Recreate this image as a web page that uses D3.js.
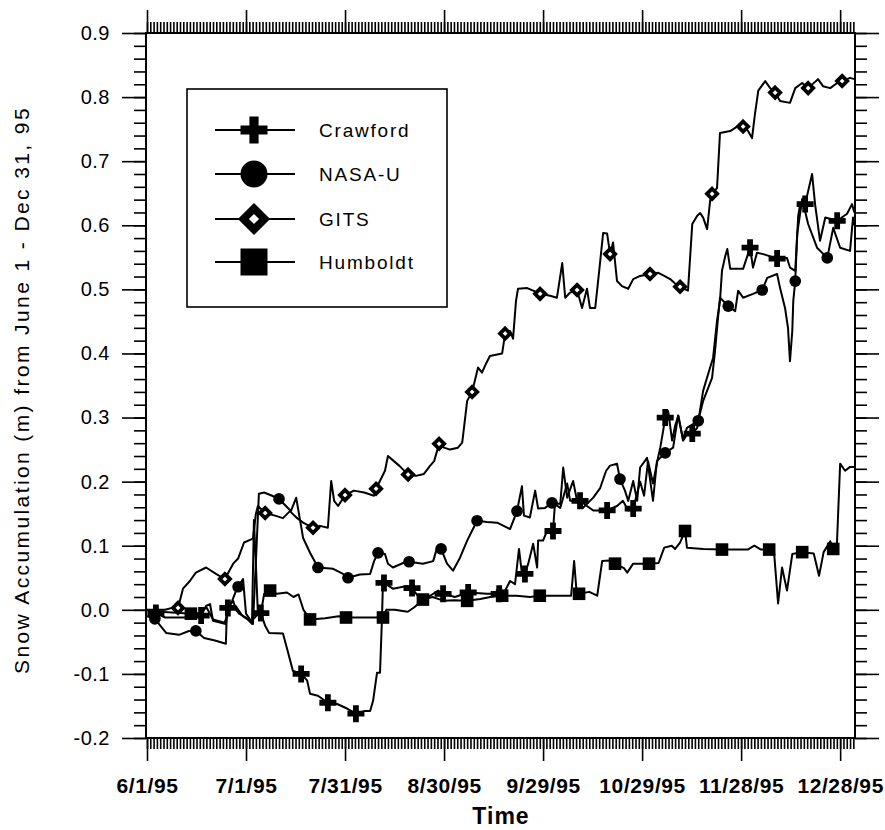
<!DOCTYPE html>
<html>
<head>
<meta charset="utf-8">
<script src="https://cdn.jsdelivr.net/npm/d3@7"></script>
<style>
  body { margin: 0; background: #fff; }
  svg { display: block; }
  .tick text { font-family: "Liberation Sans", Arial, Helvetica, sans-serif; fill: #000; }
</style>
</head>
<body>
<svg width="885" height="830"></svg>
<script>
// x tick labels, every 30 days from June 1 1995
const xTickDays = [0, 30, 60, 90, 120, 150, 180, 210];
const xTickLabels = ['6/1/95', '7/1/95', '7/31/95', '8/30/95', '9/29/95', '10/29/95', '11/28/95', '12/28/95'];
const yTicks = [-0.2, -0.1, 0.0, 0.1, 0.2, 0.3, 0.4, 0.5, 0.6, 0.7, 0.8, 0.9];
const yTickLabels = ['-0.2', '-0.1', '0.0', '0.1', '0.2', '0.3', '0.4', '0.5', '0.6', '0.7', '0.8', '0.9'];

const seriesNames = ['Crawford', 'NASA-U', 'GITS', 'Humboldt'];

// [days since 6/1/95, accumulation m]
const crawford = [[0,0],[2.7,-0.005],[5.5,-0.012],[11.5,-0.012],[16.4,-0.009],[17.9,0.006],[19.1,0.009],[20,-0.017],[23.9,-0.022],[24.5,0.003],[26.1,0.014],[27,0.0],[27.9,-0.006],[30,-0.012],[31.8,-0.022],[32.4,0.14],[33,0.07],[33.6,-0.006],[34.5,-0.005],[35.8,-0.025],[37,-0.036],[41.2,-0.037],[42.4,-0.06],[44.2,-0.095],[46.7,-0.1],[48.5,-0.11],[49.4,-0.131],[51.8,-0.134],[54.8,-0.145],[57.6,-0.147],[60.6,-0.154],[63.3,-0.162],[65.8,-0.158],[67.6,-0.158],[68.5,-0.142],[69.7,-0.098],[70.6,-0.098],[71.2,-0.012],[71.5,0.045],[71.8,0.042],[74.5,0.033],[78.8,0.037],[80.3,0.034],[82.7,0.017],[85.8,0.022],[88.2,0.03],[89.7,0.025],[93.3,0.02],[97.3,0.027],[103,0.025],[106.7,0.025],[108.5,0.03],[110,0.045],[111.5,0.04],[112.7,0.095],[113.6,0.056],[114.5,0.056],[115.5,0.072],[117,0.103],[118.2,0.066],[118.5,0.108],[120,0.108],[121.2,0.123],[123,0.123],[123.6,0.165],[125.2,0.159],[127.3,0.197],[128.2,0.17],[131.2,0.17],[133.3,0.162],[135.2,0.155],[139.4,0.155],[142.4,0.162],[144.2,0.17],[145.8,0.155],[147.3,0.158],[149.4,0.2],[150.6,0.178],[151.8,0.232],[153.3,0.197],[154.8,0.237],[155.5,0.253],[156.4,0.28],[157,0.3],[157.9,0.31],[159.1,0.264],[160,0.287],[161,0.303],[162.4,0.264],[163.9,0.276],[165.2,0.275],[166.7,0.284],[168.5,0.342],[170.6,0.378],[171.5,0.393],[172.7,0.451],[173.6,0.482],[174.2,0.529],[175.2,0.552],[175.8,0.563],[176.7,0.532],[180.6,0.532],[182.7,0.565],[183.6,0.534],[184.8,0.557],[186.7,0.555],[190.9,0.548],[193.9,0.549],[194.8,0.534],[196.4,0.529],[197.3,0.615],[197.9,0.633],[199.4,0.633],[201.5,0.68],[202.4,0.633],[203.9,0.576],[205.5,0.612],[209.1,0.607],[212.1,0.618],[213.6,0.633],[214.3,0.62]];
const nasaU = [[0,-0.01],[2.4,-0.014],[5.8,-0.036],[9.7,-0.039],[12.7,-0.033],[14.8,-0.033],[17.3,-0.044],[20.6,-0.048],[23.9,-0.053],[24.2,-0.002],[25.8,0.014],[27,0.03],[27.6,0.036],[29.1,0.048],[30,-0.006],[32.1,-0.022],[33,0.076],[33.9,0.181],[35.5,0.183],[37.9,0.178],[40,0.173],[42.1,0.162],[43.6,0.154],[45.2,0.175],[47.3,0.112],[49.4,0.089],[51.8,0.066],[56.4,0.064],[59.4,0.056],[60.9,0.05],[64.5,0.055],[67.6,0.056],[68.8,0.076],[70,0.089],[72.1,0.087],[73,0.072],[74.5,0.066],[77.6,0.073],[79.4,0.075],[83.6,0.072],[86.7,0.076],[87.9,0.097],[89.1,0.095],[90.9,0.072],[92.7,0.061],[94.8,0.081],[97,0.108],[100,0.139],[103,0.137],[106.1,0.136],[110,0.126],[112.1,0.154],[113.6,0.193],[114.2,0.147],[116,0.144],[117.6,0.186],[118.5,0.158],[120.6,0.159],[122.7,0.167],[125.2,0.165],[126.1,0.222],[127.3,0.175],[129.1,0.201],[130.3,0.17],[132.1,0.159],[135.2,0.175],[137.3,0.19],[139.1,0.217],[140.3,0.225],[142.4,0.228],[143.3,0.204],[144.8,0.186],[145.8,0.17],[147.3,0.201],[148.5,0.17],[149.4,0.222],[151.5,0.237],[152.4,0.204],[153.3,0.17],[154.5,0.232],[157,0.245],[159.4,0.253],[160.9,0.303],[162.4,0.267],[163.6,0.284],[167,0.295],[168.5,0.326],[171.2,0.362],[172.1,0.404],[173,0.456],[173.6,0.487],[176.1,0.474],[178.2,0.466],[179.1,0.498],[180.6,0.487],[183.6,0.493],[186.4,0.499],[187.9,0.518],[190.9,0.524],[191.8,0.502],[193.3,0.471],[194.2,0.44],[194.8,0.388],[195.5,0.435],[195.8,0.482],[196.4,0.513],[197,0.587],[198.5,0.641],[200.3,0.602],[203,0.565],[206.1,0.549],[207.9,0.596],[210,0.565],[213,0.56],[213.9,0.612],[214.3,0.6]];
const gits = [[0,0],[5.5,0.0],[7.6,0.003],[9.4,0.003],[10.9,0.033],[13,0.045],[14.8,0.058],[17.9,0.066],[20.9,0.056],[23.6,0.048],[26.1,0.072],[27.6,0.08],[29.4,0.105],[32.1,0.111],[33,0.15],[33.6,0.162],[35.8,0.151],[38.8,0.147],[41.2,0.143],[43.3,0.154],[45.5,0.143],[47.3,0.136],[50.3,0.128],[52.4,0.131],[54.8,0.128],[55.8,0.201],[56.7,0.17],[57.9,0.162],[60,0.179],[62.7,0.186],[65.8,0.183],[68.8,0.178],[69.4,0.189],[72.1,0.217],[73,0.24],[74.8,0.232],[76.4,0.225],[79.1,0.211],[81.5,0.209],[83.9,0.212],[85.8,0.225],[87,0.232],[88.5,0.259],[90,0.253],[91.8,0.25],[94.2,0.253],[95.5,0.261],[97,0.326],[98.5,0.34],[100.3,0.378],[101.5,0.37],[102.7,0.384],[103.9,0.396],[107.6,0.4],[108.5,0.431],[110,0.435],[110.9,0.423],[111.8,0.482],[112.4,0.501],[115.2,0.502],[117,0.498],[119.1,0.493],[122.1,0.49],[124.2,0.487],[125.8,0.541],[126.7,0.487],[128.2,0.495],[130.3,0.499],[131.8,0.471],[133.3,0.501],[134.2,0.471],[135.8,0.471],[137,0.529],[138.2,0.588],[139.4,0.587],[140.3,0.555],[141.2,0.573],[142.4,0.513],[143.9,0.505],[145.8,0.501],[147.3,0.516],[149.4,0.521],[152.4,0.524],[154.8,0.526],[156.7,0.521],[158.5,0.516],[160,0.509],[161.5,0.504],[163.9,0.498],[165.2,0.602],[166.7,0.615],[167.6,0.619],[168.5,0.612],[169.7,0.594],[170.6,0.638],[171.2,0.649],[172.7,0.658],[173.6,0.744],[176.7,0.747],[178.8,0.754],[180.6,0.754],[182.1,0.747],[183.3,0.736],[184.2,0.774],[185.2,0.81],[187.3,0.825],[188.8,0.814],[190.3,0.807],[191.8,0.794],[194.8,0.791],[196.4,0.814],[198.5,0.822],[200.3,0.814],[201.8,0.821],[203.3,0.828],[204.8,0.817],[207,0.814],[209.1,0.822],[210.6,0.825],[213,0.83],[214.3,0.828]];
const humboldt = [[0,0],[4,-0.003],[10,-0.005],[13.3,-0.006],[16,-0.005],[18,0.004],[20,-0.015],[23.5,-0.02],[25,0.0],[27,0.005],[29,-0.01],[31.5,-0.018],[33,-0.01],[34.5,-0.005],[35.5,0.025],[37.3,0.03],[39.4,0.025],[42.4,0.027],[44.4,0.02],[45.9,0.024],[47.4,0.0],[49.4,-0.015],[54,-0.013],[58,-0.01],[60.3,-0.012],[66,-0.012],[71.5,-0.012],[72.5,0.0],[75,0.0],[79,-0.003],[81,0.004],[83.6,0.016],[86.5,0.02],[90,0.014],[93,0.015],[97,0.014],[101,0.017],[104,0.02],[107.6,0.022],[112,0.022],[116,0.02],[119,0.022],[124,0.022],[128.5,0.022],[129.4,0.076],[130.2,0.025],[130.9,0.025],[134,0.028],[136.4,0.022],[137.9,0.076],[140,0.077],[141.8,0.072],[144.5,0.065],[145.5,0.058],[147.3,0.072],[152.1,0.072],[155,0.073],[156.7,0.097],[159,0.1],[160,0.095],[161.5,0.105],[163,0.123],[163.6,0.097],[168.5,0.095],[174.2,0.094],[182,0.094],[184,0.1],[186,0.094],[188.5,0.094],[190,0.088],[191.2,0.01],[192.4,0.066],[193.9,0.03],[195.5,0.087],[198.5,0.09],[202,0.088],[203.6,0.053],[205,0.09],[207,0.107],[207.9,0.095],[209,0.1],[210,0.228],[211.5,0.217],[213,0.223],[214.5,0.223]];

// days where a symbol sits on each line
const crawfordMarks = [2.7,16.4,24.5,34.5,46.7,54.8,63.3,71.8,80.3,89.7,97.3,106.7,114.5,123,131.2,139.4,147.3,157,165.2,182.7,190.9,199.4,209.1];
const nasaMarks = [2.4,14.8,27.6,40,51.8,60.9,70,79.4,89.1,100,112.1,122.7,143.3,157,167,176.1,186.4,196.4,206.1];
const gitsMarks = [9.4,23.6,35.8,50.3,60,69.4,79.1,88.5,98.5,108.5,119.1,130.3,140.3,152.4,161.5,171.2,180.6,190.3,200.3,210.6];
const humboldtMarks = [13.3,37.3,49.4,60.3,71.5,83.6,97,107.6,119,130.9,141.8,152.1,163,174.2,188.5,198.5,207.9];

const FONT = '"Liberation Sans", Arial, Helvetica, sans-serif';
const svg = d3.select('svg');
svg.append('rect').attr('width', 885).attr('height', 830).attr('fill', '#fff');

const x = d3.scaleLinear().domain([-0.3, 214.5]).range([146, 855]);
const y = d3.scaleLinear().domain([-0.2, 0.9]).range([738, 33]);

// ---- axes: minor + major ticks on all four sides, pointing outward
const minorDays = d3.range(0, 215);
const minorY = d3.range(-20, 91, 2).map(v => v / 100);

function axisGroup(axis, tx, ty) {
    let g = svg.append('g').attr('transform', `translate(${tx},${ty})`).call(axis);
    g.select('.domain').remove();
    g.selectAll('.tick line').attr('stroke', '#000').attr('stroke-width', 1.6);
    return g;
}

axisGroup(d3.axisBottom(x).tickValues(minorDays).tickSize(11).tickFormat(''), 0, 738);
axisGroup(d3.axisTop(x).tickValues(minorDays).tickSize(11).tickFormat(''), 0, 33);
axisGroup(d3.axisTop(x).tickValues(xTickDays).tickSize(23).tickFormat(''), 0, 33);
let xb = axisGroup(d3.axisBottom(x).tickValues(xTickDays).tickSize(23).tickPadding(17)
    .tickFormat((d, i) => xTickLabels[i]), 0, 738);
xb.selectAll('text').style('font-family', FONT).style('font-size', '21px')
    .style('font-weight', 'bold').style('letter-spacing', '0.6px');

axisGroup(d3.axisLeft(y).tickValues(minorY).tickSize(12).tickFormat(''), 146, 0);
axisGroup(d3.axisRight(y).tickValues(minorY).tickSize(12).tickFormat(''), 855, 0);
axisGroup(d3.axisRight(y).tickValues(yTicks).tickSize(24).tickFormat(''), 855, 0);
let yl = axisGroup(d3.axisLeft(y).tickValues(yTicks).tickSize(24).tickPadding(12)
    .tickFormat((d, i) => yTickLabels[i]), 146, 0);
yl.selectAll('text').style('font-family', FONT).style('font-size', '20px').style('letter-spacing', '0.5px');

svg.append('rect').attr('x', 146).attr('y', 33).attr('width', 709).attr('height', 705)
    .attr('fill', 'none').attr('stroke', '#000').attr('stroke-width', 2);

svg.append('text').attr('x', 501).attr('y', 824).attr('text-anchor', 'middle')
    .style('font-family', FONT).style('font-size', '23px').style('font-weight', 'bold')
    .style('letter-spacing', '1px').text('Time');

svg.append('text').attr('transform', 'translate(29,390) rotate(-90)').attr('text-anchor', 'middle')
    .style('font-family', FONT).style('font-size', '21px').style('letter-spacing', '2.4px')
    .text('Snow Accumulation (m) from June 1 - Dec 31, 95');

// ---- markers
function drawSymbol(g, kind, cx, cy, s) {
    if (kind === 'plus') {
        let a = s / 2, t = s * 0.17;
        g.append('path').attr('fill', '#000')
            .attr('d', `M${cx - a},${cy - t}H${cx - t}V${cy - a}H${cx + t}V${cy - t}H${cx + a}V${cy + t}H${cx + t}V${cy + a}H${cx - t}V${cy + t}H${cx - a}Z`);
    } else if (kind === 'circle') {
        g.append('circle').attr('cx', cx).attr('cy', cy).attr('r', s * 0.45).attr('fill', '#000');
    } else if (kind === 'diamond') {
        let w = s * 0.27, a = s / 2 - w / 2;
        g.append('path').attr('fill', '#fff').attr('stroke', '#000').attr('stroke-width', w)
            .attr('stroke-linejoin', 'miter')
            .attr('d', `M${cx},${cy - a}L${cx + a},${cy}L${cx},${cy + a}L${cx - a},${cy}Z`);
    } else {
        g.append('rect').attr('x', cx - s * 0.45).attr('y', cy - s * 0.45)
            .attr('width', s * 0.9).attr('height', s * 0.9).attr('fill', '#000');
    }
}

const series = [
    {data: crawford, marks: crawfordMarks, kind: 'plus', size: 17},
    {data: nasaU, marks: nasaMarks, kind: 'circle', size: 13},
    {data: gits, marks: gitsMarks, kind: 'diamond', size: 14},
    {data: humboldt, marks: humboldtMarks, kind: 'square', size: 14}
];

const line = d3.line().x(d => x(d[0])).y(d => y(d[1]));
const plot = svg.append('g');

series.forEach(s => {
    plot.append('path').datum(s.data).attr('d', line)
        .attr('fill', 'none').attr('stroke', '#000').attr('stroke-width', 2)
        .attr('stroke-linejoin', 'round');
});

const bis = d3.bisector(d => d[0]).center;
series.forEach(s => {
    let g = plot.append('g');
    s.marks.forEach(m => {
        let p = s.data[bis(s.data, m)];
        drawSymbol(g, s.kind, x(p[0]), y(p[1]), s.size);
    });
});

// ---- legend
const lg = svg.append('g');
lg.append('rect').attr('x', 187).attr('y', 89).attr('width', 260).attr('height', 218)
    .attr('fill', '#fff').attr('stroke', '#000').attr('stroke-width', 1.6);
const legendRows = [130, 174, 219, 262];
const legendSize = [27, 30, 29, 30];
series.forEach((s, i) => {
    let ly = legendRows[i];
    lg.append('line').attr('x1', 215).attr('x2', 295).attr('y1', ly).attr('y2', ly)
        .attr('stroke', '#000').attr('stroke-width', 2);
    drawSymbol(lg, s.kind, 254, ly, legendSize[i]);
    lg.append('text').attr('x', 319).attr('y', ly + 7)
        .style('font-family', FONT).style('font-size', '19px').style('letter-spacing', '1.8px')
        .text(seriesNames[i]);
});
</script>
</body>
</html>
